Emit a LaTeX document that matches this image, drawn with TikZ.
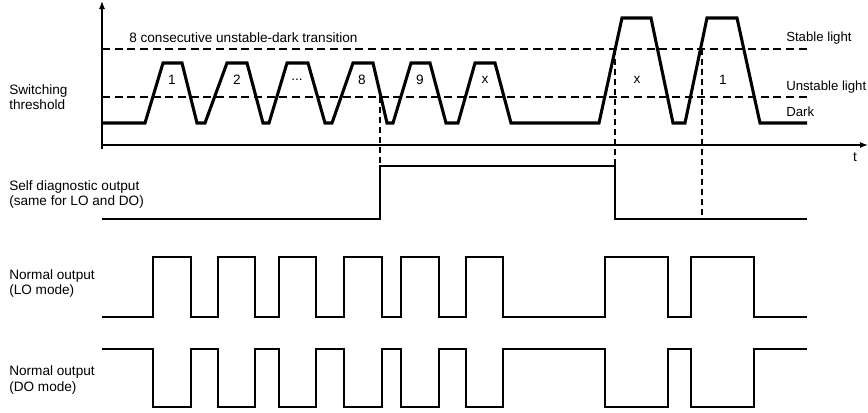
\documentclass[tikz,border=0pt]{standalone}
\usepackage{fontspec}
\setmainfont{Liberation Sans}
\usetikzlibrary{arrows.meta}
\tikzset{
	wave/.style={line width=2.3pt},
	pulse/.style={line width=1.7pt},
	axis/.style={line width=0.9pt},
	level/.style={line width=0.8pt, dash pattern=on 6pt off 3.5pt},
	marker/.style={line width=0.8pt, dash pattern=on 4.5pt off 3pt},
	lbl/.style={anchor=west, inner sep=0pt, align=left, font=\fontsize{10.2}{11.3}\selectfont},
	num/.style={inner sep=0pt, font=\fontsize{10.2}{11.3}\selectfont}
}
\begin{document}
\begin{tikzpicture}[x=0.75pt,y=-0.75pt]
\useasboundingbox (0,0) rectangle (868,412);
% axes and threshold levels
\draw[axis,-{Latex[length=6pt,width=4.5pt]}] (102,149) -- (102,1);
\draw[axis,-{Latex[length=6pt,width=4.5pt]}] (102,145) -- (868,145);
\draw[level] (102,49) -- (808,49);
\draw[level] (102,97) -- (808,97);
\path
	(9,97.5) node[lbl] (thr) {Switching\\threshold}
	(9,194.5) node[lbl] (diag) {Self diagnostic output\\(same for LO and DO)}
	(9,283.5) node[lbl] (lo) {Normal output\\(LO mode)}
	(9,380) node[lbl] (do) {Normal output\\(DO mode)}
	(129,38) node[lbl] (cons) {8 consecutive unstable-dark transition}
	(786,38) node[lbl,font=\fontsize{9.9}{11}\selectfont] (stable) {Stable light}
	(786,87) node[lbl,font=\fontsize{9.9}{11}\selectfont] (unstable) {Unstable light}
	(786,112) node[lbl,font=\fontsize{9.9}{11}\selectfont] (dark) {Dark}
	(855,157) node[num] (t) {t};
% pulse numbers
\path
	(172,80) node[num] (p1) {1}
	(237,80) node[num] (p2) {2}
	(297,80) node[num] (p3) {...}
	(362,80) node[num] (p8) {8}
	(420,80) node[num] (p9) {9}
	(485,80) node[num] (px) {x}
	(637,80) node[num] (qx) {x}
	(723,80) node[num] (q1) {1};
% light level
\draw[wave] (102,123) -- (145,123) -- (163,63) -- (182,63) -- (197,123) -- (205,123)
	-- (227,63) -- (247,63) -- (263,123) -- (269,123) -- (287,63) -- (308,63)
	-- (325,123) -- (332,123) -- (353,63) -- (373,63) -- (387,123) -- (393,123)
	-- (411,63) -- (430,63) -- (446,123) -- (458,123) -- (475,63) -- (495,63)
	-- (511,123) -- (599,123) -- (622,18) -- (651,18) -- (673,123) -- (685,123)
	-- (707,18) -- (737,18) -- (760,123) -- (807,123);
% switching instants
\draw[marker] (380,97) -- (380,166);
\draw[marker] (615,49) -- (615,166);
\draw[marker] (702,49) -- (702,219);
% outputs
\draw[pulse] (102,219) -- (380,219) -- (380,166) -- (615,166) -- (615,219) -- (807,219);
\draw[pulse] (102,317) foreach \a/\b in {153/191,218/255,279/316,344/382,401/439,466/503,605/668,691/754}
	{ -- (\a,317) -- (\a,257) -- (\b,257) -- (\b,317) } -- (807,317);
\draw[pulse] (102,349) foreach \a/\b in {153/191,218/255,279/316,344/382,401/439,466/503,605/668,691/754}
	{ -- (\a,349) -- (\a,407) -- (\b,407) -- (\b,349) } -- (807,349);
\end{tikzpicture}
\end{document}
